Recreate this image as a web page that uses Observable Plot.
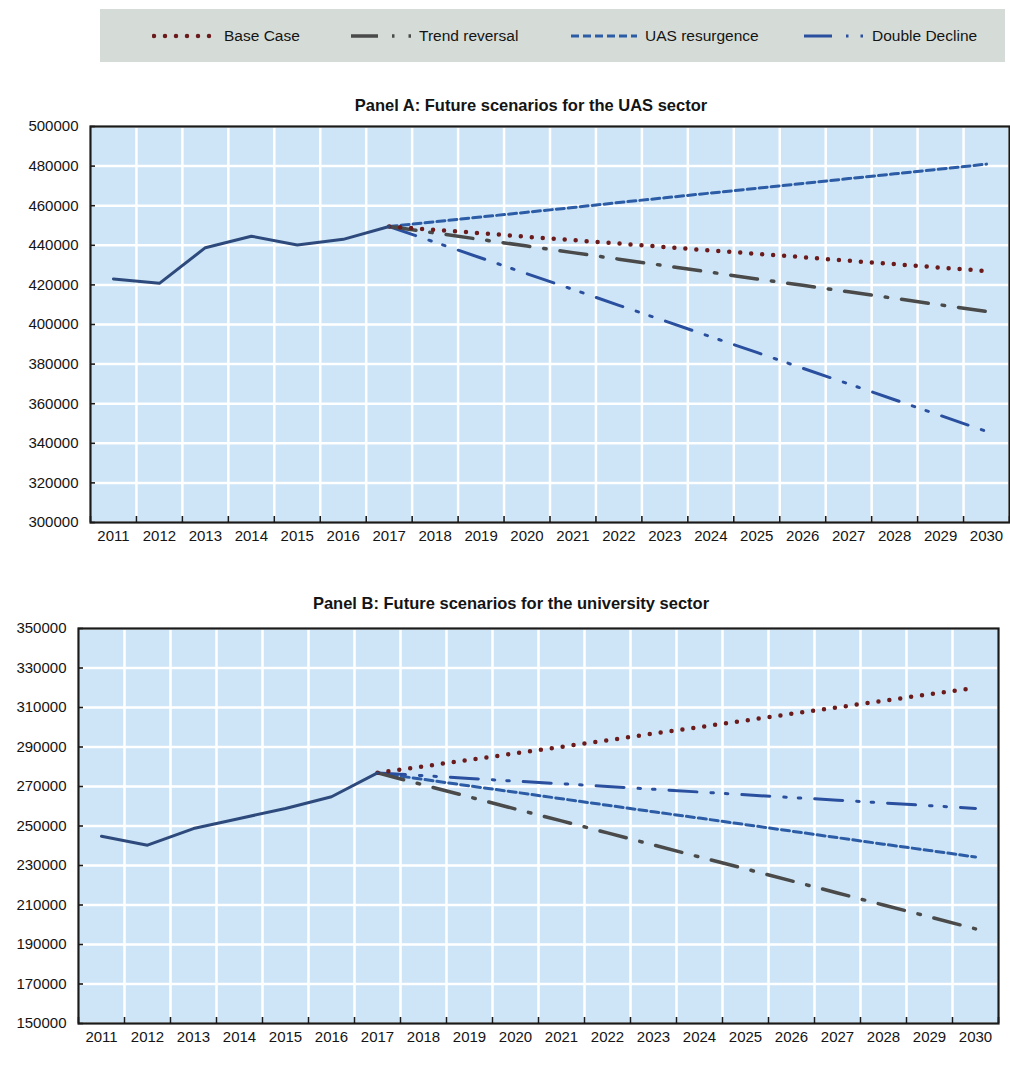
<!DOCTYPE html>
<html><head><meta charset="utf-8">
<script src="https://cdn.jsdelivr.net/npm/d3@7"></script>
<script src="https://cdn.jsdelivr.net/npm/@observablehq/plot@0.6"></script>
<style>
html,body{margin:0;padding:0;background:#fff;}
#root{position:relative;width:1010px;height:1067px;overflow:hidden;font-family:"Liberation Sans Narrow","Arial Narrow","Liberation Sans",Arial,sans-serif;color:#141414;}
#legend{position:absolute;left:100px;top:9px;width:905px;height:53px;background:#d5dcd8;}
.lg{position:absolute;top:0;height:53px;display:flex;align-items:center;font-size:15.5px;white-space:nowrap;}
.lg svg{margin-right:8px;display:block}
.title{position:absolute;font-weight:bold;font-size:16.5px;white-space:nowrap;transform:translate(-50%,-50%);z-index:2}
.panel{position:absolute;left:0}
</style></head><body><div id="root">
<div id="legend"></div>
<div class="panel" id="panelA" style="top:112px"></div>
<div class="panel" id="panelB" style="top:612px"></div>
<div class="title" style="left:531px;top:105px">Panel A: Future scenarios for the UAS sector</div>
<div class="title" style="left:511px;top:603px">Panel B: Future scenarios for the university sector</div>
</div>
<script>
// ---------- data ----------
const years = [2011,2012,2013,2014,2015,2016,2017,2018,2019,2020,2021,2022,2023,2024,2025,2026,2027,2028,2029,2030];
const histYears = [2011,2012,2013,2014,2015,2016,2017];
const projYears = [2017,2018,2019,2020,2021,2022,2023,2024,2025,2026,2027,2028,2029,2030];
const scenarioNames = ["Base Case","Trend reversal","UAS resurgence","Double Decline"];

// Panel A: UAS sector
const uasHistory = [423000,420800,438800,444600,440200,443000,449500];
const uasBase    = [449500,447800,446100,444300,442600,440900,439100,437400,435700,434000,432200,430500,428700,427000];
const uasTrend   = [449500,446200,442900,439600,436300,433000,429700,426400,423000,419800,416500,413200,409900,406600];
const uasResurg  = [449500,451900,454300,456700,459100,461600,464000,466400,468800,471200,473700,476100,478500,481000];
const uasDouble  = [449500,441500,433600,425600,417700,409700,401800,393800,385900,377900,370000,362000,354000,346000];
const uasTicks   = [300000,320000,340000,360000,380000,400000,420000,440000,460000,480000,500000];

// Panel B: university sector
const uniHistory = [244800,240300,248700,253800,258900,264800,276900];
const uniBase    = [276900,280200,283500,286800,290100,293400,296800,300100,303400,306800,310100,313400,316700,320000];
const uniTrend   = [276900,270800,264700,258600,252600,246500,240400,234300,228300,222200,216100,210000,204000,197900];
const uniResurg  = [276900,273600,270300,267100,263800,260500,257200,254000,250700,247400,244100,240800,237600,234300];
const uniDouble  = [276900,275500,274100,272700,271400,270000,268600,267200,265800,264400,263100,261700,260300,258900];
const uniTicks   = [150000,170000,190000,210000,230000,250000,270000,290000,310000,330000,350000];

// ---------- styles ----------
const FONT = '"Liberation Sans Narrow","Arial Narrow","Liberation Sans",Arial,sans-serif';
const PANEL_BG = "#cde5f6";
const HIST_COLOR = "#2e4a7c";
const STYLES = {
  "Base Case":      {stroke:"#6b1b1b", strokeWidth:4.5, strokeDasharray:"0 11", strokeLinecap:"round"},
  "Trend reversal": {stroke:"#4a4a4a", strokeWidth:3.5, strokeDasharray:"27 14 2.5 14"},
  "UAS resurgence": {stroke:"#2d5ca6", strokeWidth:3, strokeDasharray:"8 4"},
  "Double Decline": {stroke:"#2a4f9e", strokeWidth:3, strokeDasharray:"28 14 2.5 12 2.5 14"}
};
const DRAW_ORDER = ["UAS resurgence","Double Decline","Trend reversal","Base Case"];

// ---------- legend ----------
const legendLayout = {"Base Case":[52,64],"Trend reversal":[249,62],"UAS resurgence":[469,68],"Double Decline":[702,62]};
const legend = d3.select("#legend");
scenarioNames.forEach(name => {
  const [left, w] = legendLayout[name];
  const item = legend.append("div").attr("class","lg").style("left", left + "px");
  const svg = item.append("svg").attr("width", w).attr("height", 12);
  const s = STYLES[name];
  svg.append("line").attr("x1", 2).attr("x2", w).attr("y1", 6).attr("y2", 6)
    .attr("stroke", s.stroke).attr("stroke-width", s.strokeWidth)
    .attr("stroke-dasharray", s.strokeDasharray).attr("stroke-linecap", s.strokeLinecap || "butt");
  item.append("span").text(name);
});

// ---------- panels ----------
function drawPanel(sel, cfg) {
  const hist = histYears.map((year, i) => ({year, value: cfg.history[i]}));
  const scen = scenarioNames.map((name, k) => ({name, data: projYears.map((year, i) => ({year, value: cfg.scenarios[k][i]}))}));
  const boundaries = years.map(y => y - 0.5).concat([years[years.length - 1] + 0.5]);
  const ordered = DRAW_ORDER.map(n => scen.find(s => s.name === n));
  const chart = Plot.plot({
    width: 1010, height: cfg.height,
    marginLeft: cfg.marginLeft, marginRight: cfg.marginRight,
    marginTop: cfg.marginTop, marginBottom: cfg.marginBottom,
    style: {background: "transparent", fontFamily: FONT, fontSize: "15px", color: "#141414"},
    x: {type: "linear", domain: [boundaries[0], boundaries[boundaries.length - 1]], axis: null},
    y: {domain: [cfg.ticks[0], cfg.ticks[cfg.ticks.length - 1]], axis: null},
    marks: [
      Plot.frame({fill: PANEL_BG, stroke: "none"}),
      Plot.ruleY(cfg.ticks, {stroke: "#ffffff", strokeWidth: 2.5}),
      Plot.ruleX(boundaries, {stroke: "#ffffff", strokeWidth: 2.5}),
      Plot.axisX(boundaries, {tickSize: 6, dy: -6, tickFormat: () => "", label: null, stroke: "#1a1a1a", strokeWidth: 1.6}),
      Plot.axisY(cfg.ticks, {tickSize: 5, dx: 5, tickFormat: () => "", label: null, stroke: "#1a1a1a", strokeWidth: 1.6}),
      Plot.axisX(years, {tickSize: 0, tickPadding: 8, tickFormat: d => String(d), label: null, fontSize: 15, fill: "#141414"}),
      Plot.axisY(cfg.ticks, {tickSize: 0, tickPadding: 12, tickFormat: d => String(d), label: null, fontSize: 15, fill: "#141414"}),
      ...ordered.map(s => Plot.line(s.data, {x: "year", y: "value", ...STYLES[s.name]})),
      Plot.line(hist, {x: "year", y: "value", stroke: HIST_COLOR, strokeWidth: 3, strokeLinejoin: "round"}),
      Plot.frame({stroke: "#1a1a1a", strokeWidth: 2.2})
    ]
  });
  document.querySelector(sel).append(chart);
}

drawPanel("#panelA", {
  history: uasHistory, scenarios: [uasBase, uasTrend, uasResurg, uasDouble], ticks: uasTicks,
  height: 450, marginTop: 14, marginBottom: 40, marginLeft: 90, marginRight: 1
});
drawPanel("#panelB", {
  history: uniHistory, scenarios: [uniBase, uniTrend, uniResurg, uniDouble], ticks: uniTicks,
  height: 455, marginTop: 16, marginBottom: 44, marginLeft: 78, marginRight: 12
});
</script></body></html>
